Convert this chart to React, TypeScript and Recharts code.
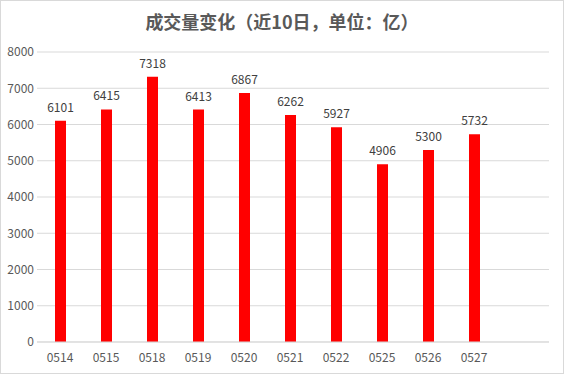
import * as React from "react";
import { BarChart, Bar, XAxis, YAxis, CartesianGrid, LabelList } from "recharts";

const days = ["0514", "0515", "0518", "0519", "0520", "0521", "0522", "0525", "0526", "0527"];
const volumes = [6101, 6415, 7318, 6413, 6867, 6262, 5927, 4906, 5300, 5732];
const yTicks = [0, 1000, 2000, 3000, 4000, 5000, 6000, 7000, 8000];

const data = days.map((d, i) => ({ day: d, volume: volumes[i] }));

const font = "'Microsoft YaHei', 'Noto Sans CJK SC', 'DejaVu Sans', sans-serif";

export default function App() {
  return (
    <div
      style={{
        position: "absolute",
        left: 0,
        top: 0,
        width: 562,
        height: 372,
        border: "1px solid #d9d9d9",
        background: "#fff",
        fontFamily: font,
      }}
    >
      <div
        style={{
          position: "absolute",
          top: 7,
          left: 0,
          width: 562,
          textAlign: "center",
          fontSize: 18,
          fontWeight: "bold",
          color: "#595959",
          fontFamily: "'Noto Sans CJK SC', sans-serif",
        }}
      >
        成交量变化（近10日，单位：亿）
      </div>
      <BarChart
        width={562}
        height={372}
        data={data}
        margin={{ top: 51, right: 14, bottom: 1, left: 0 }}
        style={{ position: "absolute", left: 0, top: 0 }}
      >
        <CartesianGrid vertical={false} stroke="#d9d9d9" />
        <XAxis
          dataKey="day"
          padding={{ left: 0, right: 52 }}
          tickLine={false}
          axisLine={{ stroke: "#d9d9d9" }}
          tickSize={9}
          tick={{ fill: "#595959", fontSize: 12, fontFamily: font }}
        />
        <YAxis
          width={36}
          domain={[0, 8000]}
          ticks={yTicks}
          interval={0}
          tickLine={false}
          axisLine={false}
          tickSize={3}
          tickMargin={0}
          tick={{ fill: "#595959", fontSize: 12, fontFamily: font }}
        />
        <Bar dataKey="volume" fill="#ff0000" barSize={11} isAnimationActive={false}>
          <LabelList
            dataKey="volume"
            position="top"
            offset={9}
            fill="#404040"
            fontSize={12}
            fontFamily={font}
          />
        </Bar>
      </BarChart>
    </div>
  );
}
